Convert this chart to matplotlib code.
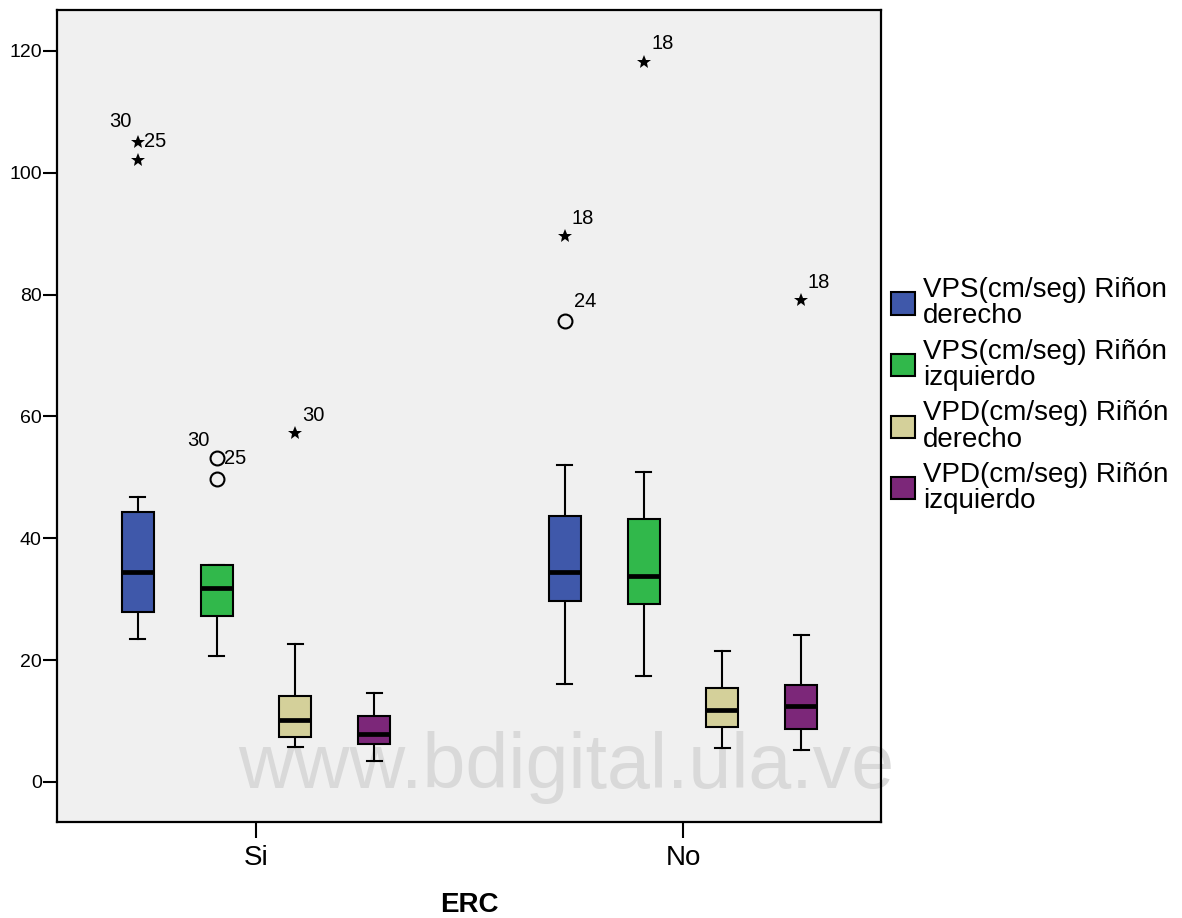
import numpy as np
import matplotlib
matplotlib.use("Agg")
from matplotlib import pyplot as plt
from matplotlib import font_manager
from matplotlib.patches import Patch

# data
groups = ["Si", "No"]
series = ["VPS(cm/seg) Riñon\nderecho", "VPS(cm/seg) Riñón\nizquierdo",
          "VPD(cm/seg) Riñón\nderecho", "VPD(cm/seg) Riñón\nizquierdo"]
colors = ["#3f58aa", "#31b84b", "#d4d09a", "#7c2779"]

# [group][series]
whislo = [[23.4, 20.6, 5.8, 3.5], [16.0, 17.4, 5.5, 5.2]]
q1 = [[27.9, 27.2, 7.4, 6.2], [29.7, 29.2, 9.1, 8.7]]
med = [[34.4, 31.9, 10.2, 7.9], [34.5, 33.8, 11.8, 12.5]]
q3 = [[44.3, 35.6, 14.1, 10.9], [43.6, 43.1, 15.4, 15.9]]
whishi = [[46.7, 35.6, 22.6, 14.6], [52.0, 50.8, 21.5, 24.2]]

# outliers: group, series, value, kind ('o' mild, '*' extreme)
out_group = [0, 0, 0, 0, 0, 1, 1, 1, 1]
out_series = [0, 0, 1, 1, 2, 0, 0, 1, 3]
out_value = [105.1, 102.1, 53.1, 49.7, 57.2, 89.6, 75.7, 118.2, 79.1]
out_kind = ["*", "*", "o", "o", "*", "*", "o", "*", "*"]

# case labels: attached to outlier index
lab_idx = [0, 0, 2, 2, 4, 5, 6, 7, 8]
lab_text = ["30", "25", "30", "25", "30", "18", "24", "18", "18"]
lab_off = [(-17, 20), (17, 0), (-18, 18), (19, 0), (18, 18),
           (18, 18), (20, 19), (19, 18), (18, 18)]

names = {f.name for f in font_manager.fontManager.ttflist}
base = "Liberation Sans" if "Liberation Sans" in names else "DejaVu Sans"
plt.rcParams["font.family"] = [base, "DejaVu Sans"]

fig = plt.figure(figsize=(11.82, 9.18), dpi=100)
W, H = 1182, 918
ax = fig.add_axes([57 / W, 1 - 822 / H, (881 - 57) / W, (822 - 10) / H])
ax.set_facecolor("#f0f0f0")

step = 0.1845
bw = 0.075
stats, pos = [], []
for g in range(2):
    for s in range(4):
        stats.append(dict(med=med[g][s], q1=q1[g][s], q3=q3[g][s],
                          whislo=whislo[g][s], whishi=whishi[g][s], fliers=[]))
        pos.append(g + (s - 1.5) * step)

bp = ax.bxp(stats, positions=pos, widths=bw, patch_artist=True, showfliers=False,
            capwidths=0.035,
            boxprops=dict(linewidth=1.5, edgecolor="black"),
            medianprops=dict(color="black", linewidth=3.4, solid_capstyle="butt"),
            whiskerprops=dict(color="black", linewidth=1.5),
            capprops=dict(color="black", linewidth=1.5))
for i, b in enumerate(bp["boxes"]):
    b.set_facecolor(colors[i % 4])
    b.set_zorder(3)
for m in bp["medians"]:
    m.set_zorder(4)

ox = [g + (s - 1.5) * step for g, s in zip(out_group, out_series)]
for x, v, k in zip(ox, out_value, out_kind):
    if k == "o":
        ax.plot(x, v, "o", ms=10, mfc="none", mec="black", mew=1.5, zorder=5)
    else:
        ax.plot(x, v, "*", ms=10, color="black", mew=0, zorder=5)

for i, t, (dx, dy) in zip(lab_idx, lab_text, lab_off):
    ha = "left" if dy == 0 else "center"
    ax.annotate(t, (ox[i], out_value[i]), xytext=(dx * 0.72 - (8 if ha == "left" else 0), dy * 0.72),
                textcoords="offset points", ha=ha, va="center", fontsize=14.5, zorder=6)

ax.text(566 / W, 1 - 788 / H, "www.bdigital.ula.ve", transform=fig.transFigure,
        ha="center", va="baseline", fontsize=55.5, color="#d9d9d9", zorder=1)

ax.set_xlim(-0.466, 1.4637)
ax.set_ylim(-6.57, 126.7)
ax.set_yticks(np.arange(0, 121, 20))
ax.set_xticks([0, 1])
ax.set_xticklabels(groups, fontsize=20)
ax.tick_params(axis="y", length=10, width=1.5, pad=1, labelsize=14)
ax.tick_params(axis="x", length=11.5, width=1.5, pad=5)
for sp in ax.spines.values():
    sp.set_linewidth(1.6)
ax.set_xlabel("ERC", fontsize=20, fontweight="bold", labelpad=15)

handles = [Patch(facecolor=c, edgecolor="black", linewidth=1.5) for c in colors]
leg = fig.legend(handles, series, loc="upper left", bbox_to_anchor=(891 / W, 1 - 277 / H),
                 frameon=False, fontsize=20, borderpad=0, borderaxespad=0,
                 handlelength=0.86, handleheight=0.86, handletextpad=0.3,
                 labelspacing=0.33)
for t in leg.get_texts():
    t.set_linespacing(1.02)

fig.savefig("out.png", dpi=100)
